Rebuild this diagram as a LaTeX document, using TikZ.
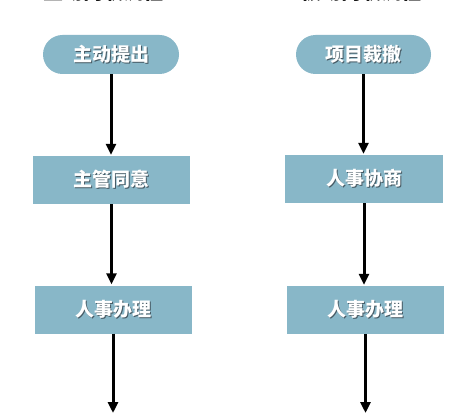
\documentclass[tikz,border=0pt]{standalone}
\usepackage{fontspec}
\newfontfamily\cjk{Noto Sans CJK SC}
\usetikzlibrary{arrows.meta,shapes.misc}
\definecolor{boxblue}{RGB}{136,183,200}
\definecolor{shade}{RGB}{70,90,100}
\newcommand\shtext[1]{\makebox[0pt][l]{\raisebox{-1.2pt}{\hspace{1.2pt}\textcolor{shade}{#1}}}#1}
\tikzset{
  x=1pt,y=1pt,
  pill/.style={rounded rectangle, fill=boxblue, minimum width=136pt, minimum height=39pt, inner sep=0pt,
    text=white, font=\cjk\bfseries\fontsize{19}{20}\selectfont},
  stepbox/.style={rectangle, fill=boxblue, minimum width=157pt, minimum height=48pt, inner sep=0pt,
    text=white, font=\cjk\bfseries\fontsize{19}{20}\selectfont},
  title/.style={font=\cjk\bfseries\fontsize{20}{22}\selectfont, text=black, inner sep=0pt},
  arr/.style={line width=3pt, -{Triangle[length=11pt,width=10pt]}, shorten >=1pt}
}
\begin{document}
\begin{tikzpicture}
\useasboundingbox (0,0) rectangle (454,-414);
\clip (0,0) rectangle (454,-414);
\fill[white] (0,0) rectangle (454,-414);
\node[title] (t1) at (103,8) {主动离职流程};
\node[title] (t2) at (361.5,8) {被动离职流程};
\node[pill] (a1) at (111,-54.5) {\shtext{主动提出}};
\node[stepbox] (a2) at (111.5,-180) {\shtext{主管同意}};
\node[stepbox] (a3) at (113,-309.5) {\shtext{人事办理}};
\coordinate (a4) at (113,-414);
\node[pill, minimum width=135pt] (b1) at (363.5,-54.5) {\shtext{项目裁撤}};
\node[stepbox, minimum width=158pt] (b2) at (364,-179) {\shtext{人事协商}};
\node[stepbox] (b3) at (365.5,-310) {\shtext{人事办理}};
\coordinate (b4) at (365.5,-414);
\draw[arr] (a1.south) -- (a1.south |- a2.north);
\draw[arr] (a2.south) -- (a2.south |- a3.north);
\draw[arr] (a3.south) -- (a4);
\draw[arr] (b1.south) -- (b1.south |- b2.north);
\draw[arr] (b2.south) -- (b2.south |- b3.north);
\draw[arr] (b3.south) -- (b4);
\end{tikzpicture}
\end{document}
